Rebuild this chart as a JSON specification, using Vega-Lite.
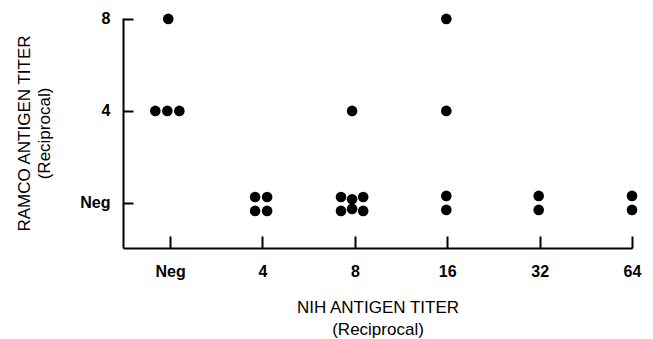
{
  "$schema": "https://vega.github.io/schema/vega-lite/v6.json",
  "width": 509,
  "height": 230,
  "autosize": {"type": "none"},
  "padding": {"left": 123, "top": 18, "right": 21, "bottom": 91},
  "background": "white",
  "config": {
    "view": {"stroke": null},
    "font": "Liberation Sans"
  },
  "data": {
    "values": [
      {"nih": -0.02, "ramco": 2.0},
      {"nih": -0.16, "ramco": 1.0},
      {"nih": -0.03, "ramco": 1.0},
      {"nih": 0.10, "ramco": 1.0},
      {"nih": 0.92, "ramco": 0.065},
      {"nih": 1.05, "ramco": 0.065},
      {"nih": 0.92, "ramco": -0.087},
      {"nih": 1.05, "ramco": -0.087},
      {"nih": 1.85, "ramco": 0.065},
      {"nih": 1.97, "ramco": 0.04},
      {"nih": 2.09, "ramco": 0.065},
      {"nih": 1.85, "ramco": -0.087},
      {"nih": 1.97, "ramco": -0.065},
      {"nih": 2.09, "ramco": -0.087},
      {"nih": 1.97, "ramco": 1.0},
      {"nih": 2.99, "ramco": 2.0},
      {"nih": 2.99, "ramco": 1.0},
      {"nih": 2.99, "ramco": 0.076},
      {"nih": 2.99, "ramco": -0.076},
      {"nih": 3.99, "ramco": 0.076},
      {"nih": 3.99, "ramco": -0.076},
      {"nih": 5.0, "ramco": 0.076},
      {"nih": 5.0, "ramco": -0.076}
    ]
  },
  "mark": {"type": "point", "filled": true, "shape": "circle", "size": 113, "color": "black", "opacity": 1, "clip": false},
  "encoding": {
    "x": {
      "field": "nih",
      "type": "quantitative",
      "scale": {"domain": [-0.51, 5], "nice": false, "zero": false},
      "axis": {
        "values": [0, 1, 2, 3, 4, 5],
        "labelExpr": "['Neg','4','8','16','32','64'][datum.value]",
        "grid": false,
        "domainColor": "black",
        "domainWidth": 2,
        "tickColor": "black",
        "tickWidth": 2,
        "tickSize": -12,
        "labelPadding": 27,
        "labelFontSize": 16,
        "labelFontWeight": "bold",
        "labelColor": "black",
        "labelFlush": false,
        "title": ["NIH ANTIGEN TITER", "(Reciprocal)"],
        "titleFontSize": 17,
        "titleFontWeight": "normal",
        "titleColor": "black",
        "titlePadding": 20,
        "titleLineHeight": 22
      }
    },
    "y": {
      "field": "ramco",
      "type": "quantitative",
      "scale": {"domain": [-0.49, 2.01], "nice": false, "zero": false},
      "axis": {
        "values": [0, 1, 2],
        "labelExpr": "['Neg','4','8'][datum.value]",
        "grid": false,
        "domainColor": "black",
        "domainWidth": 2,
        "tickColor": "black",
        "tickWidth": 2,
        "tickSize": -10,
        "labelPadding": 23,
        "labelFontSize": 16,
        "labelFontWeight": "bold",
        "labelColor": "black",
        "labelFlush": false,
        "title": ["RAMCO ANTIGEN TITER", "(Reciprocal)"],
        "titleFontSize": 17,
        "titleFontWeight": "normal",
        "titleColor": "black",
        "titlePadding": 26,
        "titleLineHeight": 20
      }
    }
  }
}
